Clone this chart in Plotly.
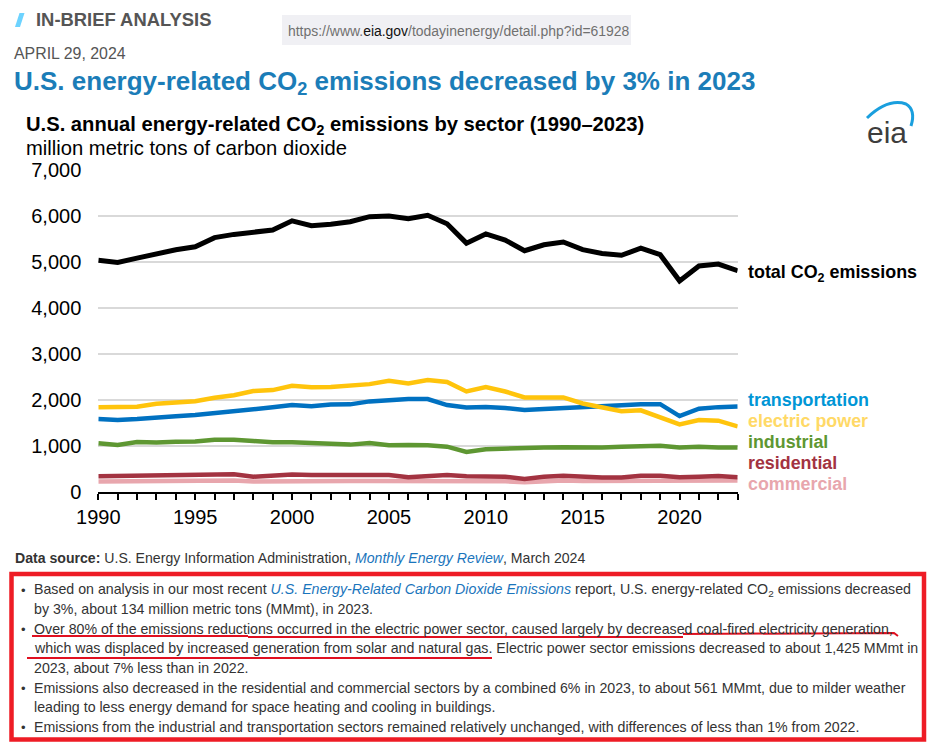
import plotly.graph_objects as go

# ---------------- data ----------------
years = list(range(1990, 2024))
total = [5040, 4990, 5085, 5185, 5265, 5330, 5530, 5600, 5635, 5695, 5895, 5790, 5820,
         5875, 5985, 6000, 5940, 6015, 5830, 5410, 5610, 5475, 5245, 5375, 5435, 5270,
         5185, 5145, 5300, 5160, 4590, 4915, 4955, 4810]
transportation = [1585, 1565, 1585, 1605, 1645, 1675, 1715, 1745, 1790, 1840, 1890, 1865,
                  1900, 1905, 1970, 2000, 2020, 2020, 1890, 1835, 1850, 1825, 1785, 1805,
                  1820, 1845, 1865, 1885, 1910, 1910, 1650, 1810, 1845, 1860]
electric_power = [1840, 1840, 1855, 1920, 1950, 1975, 2050, 2105, 2195, 2215, 2310, 2275,
                  2285, 2310, 2345, 2420, 2360, 2435, 2390, 2185, 2280, 2185, 2055, 2055,
                  2055, 1925, 1835, 1755, 1775, 1620, 1470, 1565, 1550, 1425]
industrial = [1060, 1020, 1085, 1075, 1095, 1100, 1135, 1135, 1110, 1080, 1080, 1060,
              1045, 1030, 1065, 1015, 1020, 1015, 985, 870, 930, 935, 945, 965,
              975, 965, 965, 985, 1005, 1005, 970, 985, 970, 970]
residential = [340, 348, 360, 375, 368, 368, 398, 384, 333, 360, 383, 370, 370, 390, 384,
               370, 320, 348, 368, 342, 342, 333, 285, 333, 355, 326, 313, 313, 355, 355,
               320, 333, 348, 320]
commercial = [230, 230, 232, 232, 232, 232, 252, 252, 226, 232, 246, 240, 240, 240, 240,
              240, 218, 225, 240, 232, 232, 232, 212, 240, 252, 240, 240, 240, 258, 258,
              246, 260, 262, 252]
y_ticks = [0, 1000, 2000, 3000, 4000, 5000, 6000, 7000]
y_tick_labels = ["0", "1,000", "2,000", "3,000", "4,000", "5,000", "6,000", "7,000"]
x_ticks = [1990, 1995, 2000, 2005, 2010, 2015, 2020]
x_tick_labels = ["1990", "1995", "2000", "2005", "2010", "2015", "2020"]

series = [
    ("commercial", commercial, "#e8a6ad", "#e8a6ad"),
    ("residential", residential, "#a33341", "#a33341"),
    ("industrial", industrial, "#5e9732", "#5e9732"),
    ("transportation", transportation, "#0071c1", "#0096d6"),
    ("electric power", electric_power, "#ffc40c", "#ffd966"),
]

# ---------------- geometry helpers ----------------
W, H = 936, 748
OFF = 8  # page body margin


def px(x):
    return (x - OFF) / W


def py(y):
    return 1 - (y - OFF) / H


FONT = "Arial, Liberation Sans, sans-serif"

fig = go.Figure()
for name, vals, lc, _ in series:
    fig.add_trace(go.Scatter(x=years, y=vals, mode="lines", name=name,
                             line=dict(color=lc, width=4.5), hoverinfo="skip"))
fig.add_trace(go.Scatter(x=years, y=total, mode="lines", name="total",
                         line=dict(color="#000000", width=5), hoverinfo="skip"))

ann = []


def text(x, y, s, size, color="#000000", xanchor="left", yanchor="middle"):
    ann.append(dict(x=px(x), y=py(y), xref="paper", yref="paper", text=s,
                    showarrow=False, xanchor=xanchor, yanchor=yanchor,
                    font=dict(family=FONT, size=size, color=color)))


# series labels
text(746, 273, "<b>total CO<sub>2</sub> emissions</b>", 17.9, "#000000")
label_y = {"transportation": 400, "electric power": 421, "industrial": 442,
           "residential": 463, "commercial": 484}
for name, vals, lc, tc in series:
    text(746, label_y[name], "<b>%s</b>" % name, 17.85, tc)

# chart titles
text(24, 126, "<b>U.S. annual energy-related CO<sub>2</sub> emissions by sector (1990–2023)</b>", 20.2)
text(24, 148, "million metric tons of carbon dioxide", 20.2)

# header
text(34, 20, "<b>IN-BRIEF ANALYSIS</b>", 18.4, "#555555")
text(12, 53, "APRIL 29, 2024", 15.9, "#555555")
text(12, 83, "<b>U.S. energy-related CO<sub>2</sub> emissions decreased by 3% in 2023</b>", 26, "#1b7db8")
text(286, 31, "https://www.<span style='color:#111111'>eia.gov</span>/todayinenergy/detail.php?id=61928",
     13.95, "#707070")
# eia logo text
text(887, 132, "eia", 30, "#3d3d3d", xanchor="center")

# footer
text(13, 558, "<b>Data source:</b> U.S. Energy Information Administration, "
     "<i><span style='color:#1a75bc'>Monthly Energy Review</span></i>, March 2024", 14.1, "#333333")

bullet_lines = [
    (590, True, "Based on analysis in our most recent <i><span style='color:#1a75bc'>U.S. Energy-Related "
                "Carbon Dioxide Emissions</span></i> report, U.S. energy-related CO<sub>2</sub> emissions decreased"),
    (609, False, "by 3%, about 134 million metric tons (MMmt), in 2023."),
    (629, True, "Over 80% of the emissions reductions occurred in the electric power sector, caused largely "
                "by decreased coal-fired electricity generation,"),
    (648, False, "which was displaced by increased generation from solar and natural gas. Electric power "
                 "sector emissions decreased to about 1,425 MMmt in"),
    (668, False, "2023, about 7% less than in 2022."),
    (688, True, "Emissions also decreased in the residential and commercial sectors by a combined 6% in 2023, "
                "to about 561 MMmt, due to milder weather"),
    (707, False, "leading to less energy demand for space heating and cooling in buildings."),
    (727, True, "Emissions from the industrial and transportation sectors remained relatively unchanged, "
                "with differences of less than 1% from 2022."),
]
for y, bullet, s in bullet_lines:
    if bullet:
        text(19, y, "•", 13, "#333333")
    text(32, y, s, 14.2, "#333333")

shapes = []


def line(x0, y0, x1, y1, color, width):
    shapes.append(dict(type="line", xref="paper", yref="paper", x0=px(x0), y0=py(y0),
                       x1=px(x1), y1=py(y1), line=dict(color=color, width=width)))


def path(points, fill=None, color=None, width=0, close=True):
    d = "M " + " L ".join("%.5f,%.5f" % (px(a), py(b)) for a, b in points)
    if close:
        d += " Z"
    shapes.append(dict(type="path", xref="paper", yref="paper", path=d,
                       fillcolor=fill if fill else "rgba(0,0,0,0)",
                       line=dict(color=color if color else "rgba(0,0,0,0)", width=width)))


# url box
shapes.append(dict(type="rect", xref="paper", yref="paper", x0=px(282), x1=px(631),
                   y0=py(45), y1=py(15), fillcolor="#f0f0f4", line=dict(width=0), layer="below"))
# cyan slash
path([(15, 27), (19.5, 13), (24.5, 13), (20, 27)], fill="#6dd3ff")
# eia arc
arc = "M %.5f,%.5f Q %.5f,%.5f %.5f,%.5f Q %.5f,%.5f %.5f,%.5f" % (
    px(867), py(118), px(888), py(98), px(906), py(104), px(916), py(110), px(911), py(126))
shapes.append(dict(type="path", xref="paper", yref="paper", path=arc,
                   line=dict(color="#1a9fde", width=3)))
# red box
shapes.append(dict(type="rect", xref="paper", yref="paper", x0=px(11.5), x1=px(924),
                   y0=py(739.5), y1=py(574), line=dict(color="#ee1c25", width=4.5)))
# red underlines
line(32, 636, 248, 636, "#e01020", 2)
line(248, 637, 683, 637, "#e01020", 2)
path([(683, 634), (894, 633), (898, 636)], color="#e01020", width=2, close=False)
line(27, 658, 492, 658, "#e01020", 2)

fig.update_layout(
    width=W, height=H,
    margin=dict(l=0, r=0, t=0, b=0, autoexpand=False),
    paper_bgcolor="white", plot_bgcolor="white",
    showlegend=False,
    annotations=ann, shapes=shapes,
    xaxis=dict(domain=[px(98.3), px(737.7)], range=[1990, 2023], automargin=False,
               tickvals=x_ticks, ticktext=x_tick_labels, ticks="outside", ticklen=6,
               tickwidth=1.5, tickcolor="#000000", showline=True, linecolor="#000000",
               linewidth=2, showgrid=False, zeroline=False,
               minor=dict(dtick=1, ticks="outside", ticklen=6, tickwidth=1.5,
                          tickcolor="#000000", showgrid=False),
               tickfont=dict(family=FONT, size=20, color="#000000")),
    yaxis=dict(domain=[py(492), py(170)], range=[0, 7000], tickvals=y_ticks, automargin=False,
               ticktext=y_tick_labels, showgrid=True, gridcolor="#d9d9d9", gridwidth=1.5,
               zeroline=False, showline=False, ticks="", ticklabelstandoff=16,
               tickfont=dict(family=FONT, size=20, color="#000000")),
)

fig.write_html("out.html")
